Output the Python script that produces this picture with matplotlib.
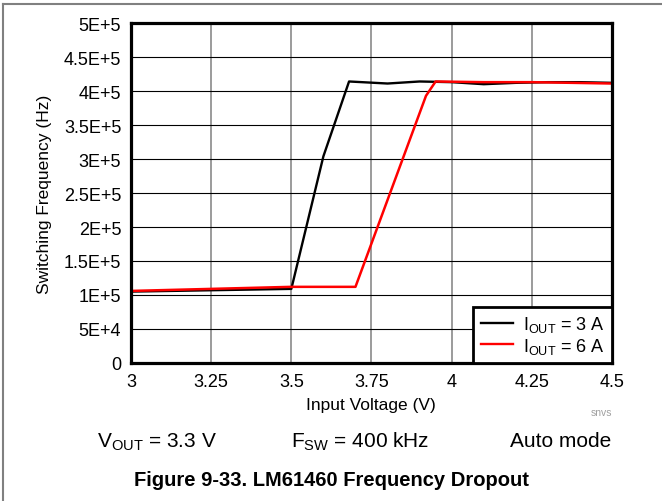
import matplotlib
matplotlib.use("Agg")
import matplotlib.pyplot as plt
from matplotlib.lines import Line2D

plt.rcParams["font.family"] = ["Liberation Sans", "DejaVu Sans"]
plt.rcParams["mathtext.fontset"] = "custom"
plt.rcParams["mathtext.rm"] = "Liberation Sans"
plt.rcParams["mathtext.it"] = "Liberation Sans:italic"
plt.rcParams["mathtext.bf"] = "Liberation Sans:bold"

# Data
vin_3a = [3.0, 3.25, 3.5, 3.6, 3.68, 3.8, 3.9, 4.0, 4.1, 4.2, 4.3, 4.4, 4.5]
fsw_3a = [105000, 107000, 109000, 304000, 414000, 411000, 414000, 413000,
          410000, 412000, 413000, 413000, 412000]
vin_6a = [3.0, 3.25, 3.5, 3.7, 3.92, 3.95, 4.1, 4.25, 4.5]
fsw_6a = [106000, 109000, 112000, 112000, 393000, 414000, 413000, 413000, 411000]

x_ticks = [3, 3.25, 3.5, 3.75, 4, 4.25, 4.5]
x_ticklabels = ["3", "3.25", "3.5", "3.75", "4", "4.25", "4.5"]
y_ticks = [0, 50000, 100000, 150000, 200000, 250000, 300000, 350000, 400000,
           450000, 500000]
y_ticklabels = ["0", "5E+4", "1E+5", "1.5E+5", "2E+5", "2.5E+5", "3E+5",
                "3.5E+5", "4E+5", "4.5E+5", "5E+5"]

W, H = 662, 502
fig = plt.figure(figsize=(W / 100, H / 100), dpi=100)
ax = fig.add_axes([131 / W, 1 - 364 / H, 481 / W, 340 / H])

for x in x_ticks[1:-1]:
    ax.axvline(x, color="#808080", lw=1.1, zorder=1)
for y in y_ticks[1:-1]:
    ax.axhline(y, color="black", lw=0.8, zorder=1)

ax.plot(vin_3a, fsw_3a, color="black", lw=1.7, zorder=3)
ax.plot(vin_6a, fsw_6a, color="#ff0000", lw=1.8, zorder=4)

ax.set_xlim(3, 4.5)
ax.set_ylim(0, 500000)
ax.set_xticks(x_ticks)
ax.set_xticklabels(x_ticklabels, fontsize=13)
ax.set_yticks(y_ticks)
ax.set_yticklabels(y_ticklabels, fontsize=13)
ax.tick_params(length=0, pad=7)
for s in ax.spines.values():
    s.set_linewidth(2.3)
    s.set_zorder(5)

handles = [Line2D([], [], color="black", lw=1.7),
           Line2D([], [], color="#ff0000", lw=1.7)]
leg = ax.legend(handles, [r"I$_{\rm OUT}$ = 3 A", r"I$_{\rm OUT}$ = 6 A"],
                loc="lower right", bbox_to_anchor=(1.0, 0.0), fontsize=13,
                frameon=True, fancybox=False, borderaxespad=0,
                handlelength=1.8, handletextpad=0.55, labelspacing=0.1,
                borderpad=0.4)
leg.get_frame().set_edgecolor("black")
leg.get_frame().set_linewidth(2.0)
leg.get_frame().set_alpha(1)
leg.set_zorder(6)

fig.text(371 / W, 1 - 406 / H, "Input Voltage (V)", fontsize=12.5,
         ha="center", va="center")
fig.text(45 / W, 1 - 194 / H, "Switching Frequency (Hz)", fontsize=12.5,
         ha="center", va="center", rotation=90)
fig.text(612 / W, 1 - 413 / H, "snvs", fontsize=7.5, color="#a0a0a0",
         ha="right", va="center")

fig.text(157 / W, 1 - 442 / H, r"V$_{\rm OUT}$ = 3.3 V", fontsize=15,
         ha="center", va="center")
fig.text(360 / W, 1 - 442 / H, r"F$_{\rm SW}$ = 400 kHz", fontsize=15,
         ha="center", va="center")
fig.text(561 / W, 1 - 442 / H, "Auto mode", fontsize=15,
         ha="center", va="center")
fig.text(331 / W, 1 - 481 / H, "Figure 9-33. LM61460 Frequency Dropout",
         fontsize=14.5, fontweight="bold", ha="center", va="center")

# page frame (top and left edges)
fig.add_artist(Line2D([3 / W, 3 / W], [0, 1 - 5 / H], color="#808080",
                      lw=1.5, transform=fig.transFigure))
fig.add_artist(Line2D([3 / W, 1], [1 - 5 / H, 1 - 5 / H], color="#808080",
                      lw=1.5, transform=fig.transFigure))

fig.savefig("out.png", dpi=100)
